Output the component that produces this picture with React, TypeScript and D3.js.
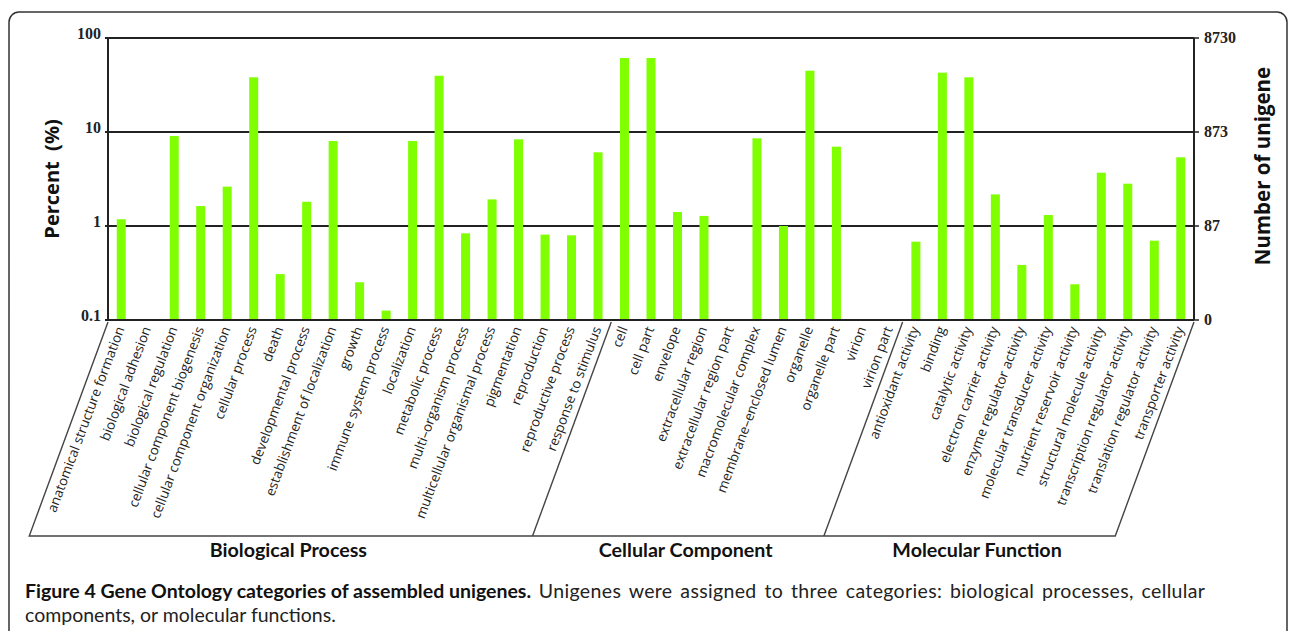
import React from "react";
import * as d3 from "d3";

// GO term categories, in plotting order
const categories: string[] = [
  "anatomical structure formation",
  "biological adhesion",
  "biological regulation",
  "cellular component biogenesis",
  "cellular component organization",
  "cellular process",
  "death",
  "developmental process",
  "establishment of localization",
  "growth",
  "immune system process",
  "localization",
  "metabolic process",
  "multi\u2013organism process",
  "multicellular organismal process",
  "pigmentation",
  "reproduction",
  "reproductive process",
  "response to stimulus",
  "cell",
  "cell part",
  "envelope",
  "extracellular region",
  "extracellular region part",
  "macromolecular complex",
  "membrane\u2013enclosed lumen",
  "organelle",
  "organelle part",
  "virion",
  "virion part",
  "antioxidant activity",
  "binding",
  "catalytic activity",
  "electron carrier activity",
  "enzyme regulator activity",
  "molecular transducer activity",
  "nutrient reservoir activity",
  "structural molecule activity",
  "transcription regulator activity",
  "translation regulator activity",
  "transporter activity",
];

// Percent of unigenes per category (0 = no bar above the 0.1% floor)
const percents: number[] = [
  1.18, 0, 9.06, 1.63, 2.62, 38.2, 0.308, 1.81, 8.02, 0.252, 0.126, 8.02,
  39.7, 0.836, 1.92, 8.36, 0.81, 0.796, 6.08,
  61.3, 61.3, 1.41, 1.28, 0, 8.57, 1.0, 44.9, 6.98, 0, 0,
  0.681, 42.8, 38.2, 2.17, 0.385, 1.31, 0.24, 3.69, 2.82, 0.698, 5.38,
];

// Ontology groups and how many categories each one holds
const groupNames: string[] = ["Biological Process", "Cellular Component", "Molecular Function"];
const groupSizes: number[] = [19, 11, 11];

// Axis ticks: percent on the left, unigene counts on the right
const percentTicks: number[] = [0.1, 1, 10, 100];
const percentTickLabels: string[] = ["0.1", "1", "10", "100"];
const countTickLabels: string[] = ["0", "87", "873", "8730"];

const W = 1290;
const H = 631;
const plotLeft = 108;
const plotRight = 1194;
const plotTop = 38;
const plotBottom = 320;
const bracketBottom = 536;
const slant = 0.368; // horizontal shift per vertical px for the slanted bracket edges
const labelAngle = -69.5;

const GREEN = "#7FFF00";
const INK = "#222";

export default function App() {
  const x = d3.scaleBand<string>().domain(categories).range([plotLeft, plotRight]).paddingInner(0).paddingOuter(0);
  const y = d3.scaleLog().domain([0.1, 100]).range([plotBottom, plotTop]);
  const step = x.step();
  const barW = 9;
  const center = (c: string) => (x(c) as number) + step / 2;

  // boundaries between groups (top edge of the bracket)
  const bounds: number[] = [];
  let acc = 0;
  bounds.push(x(categories[0]) as number);
  groupSizes.forEach((n) => {
    acc += n;
    const c = categories[acc - 1];
    bounds.push((x(c) as number) + step);
  });
  const bracketTopY = plotBottom + 2;
  const dx = (bracketBottom - bracketTopY) * slant;
  const bottomOf = (bx: number) => bx - dx;

  const serif = "'Liberation Serif', 'Times New Roman', serif";
  const sans = "'Open Sans', 'Noto Sans', sans-serif";
  const capFont = "Lato, 'Open Sans', sans-serif";

  return (
    <svg width={W} height={H} style={{ position: "absolute", left: 0, top: 0, background: "#fff" }}>
      {/* figure frame */}
      <rect x={9} y={12} width={1278} height={700} rx={10} ry={10} fill="none" stroke="#333" strokeWidth={1.5} />

      {/* horizontal grid lines at each decade */}
      {percentTicks.map((t) => (
        <line key={"g" + t} x1={plotLeft - 3} x2={plotRight} y1={y(t)} y2={y(t)} stroke={INK} strokeWidth={2.2} />
      ))}

      {/* bars */}
      {categories.map((c, i) =>
        percents[i] > 0.1 ? (
          <rect
            key={c}
            x={center(c) - barW / 2}
            y={y(percents[i])}
            width={barW}
            height={plotBottom - y(percents[i]) - 1}
            fill={GREEN}
          />
        ) : null
      )}

      {/* left and right axes */}
      <line x1={plotLeft} x2={plotLeft} y1={plotTop} y2={plotBottom} stroke={INK} strokeWidth={2} />
      <line x1={plotRight} x2={plotRight} y1={plotTop} y2={plotBottom} stroke={INK} strokeWidth={2} />
      {percentTicks.map((t, i) => (
        <g key={"lt" + t}>
          <text
            x={plotLeft - 7}
            y={y(t) + 1}
            textAnchor="end"
            fontFamily={serif}
            fontWeight="bold"
            fontSize={16}
            fill="#222"
          >
            {percentTickLabels[i]}
          </text>
          <line x1={plotRight} x2={plotRight + 5} y1={y(t)} y2={y(t)} stroke={INK} strokeWidth={1.5} />
          <text
            x={plotRight + 10}
            y={y(t) + 5}
            textAnchor="start"
            fontFamily={serif}
            fontWeight="bold"
            fontSize={16}
            fill="#222"
          >
            {countTickLabels[i]}
          </text>
        </g>
      ))}

      {/* axis titles */}
      <text
        transform={`translate(59,${(plotTop + plotBottom) / 2}) rotate(-90)`}
        textAnchor="middle"
        fontFamily={sans}
        fontWeight="bold"
        fontSize={20}
        fill="#111"
      >
        {"Percent\u00a0\u00a0(%)"}
      </text>
      <text
        transform={`translate(1270,${(plotTop + plotBottom) / 2 - 13}) rotate(-90)`}
        textAnchor="middle"
        fontFamily={sans}
        fontWeight="bold"
        fontSize={20.5}
        fill="#111"
      >
        Number of unigene
      </text>

      {/* category labels */}
      {categories.map((c) => (
        <text
          key={"l" + c}
          transform={`translate(${center(c) - 1},${plotBottom + 7}) rotate(${labelAngle})`}
          textAnchor="end"
          dy="0.35em"
          fontFamily={sans}
          fontSize={13.5}
          fill="#222"
        >
          {c}
        </text>
      ))}

      {/* group bracket */}
      <path
        d={`M${bounds[0]},${bracketTopY} L${bottomOf(bounds[0])},${bracketBottom} L${bottomOf(bounds[bounds.length - 1])},${bracketBottom} L${bounds[bounds.length - 1]},${bracketTopY}`}
        fill="none"
        stroke="#444"
        strokeWidth={1.4}
      />
      {bounds.slice(1, -1).map((b, i) => (
        <line key={"d" + i} x1={b} y1={bracketTopY} x2={bottomOf(b)} y2={bracketBottom} stroke="#444" strokeWidth={1.4} />
      ))}
      {groupNames.map((g, i) => (
        <text
          key={g}
          x={(bottomOf(bounds[i]) + bottomOf(bounds[i + 1])) / 2 + 7.5}
          y={557}
          textAnchor="middle"
          fontFamily={capFont}
          fontWeight="bold"
          fontSize={19.7}
          fill="#111"
        >
          {g}
        </text>
      ))}

      {/* caption */}
      <text x={25} y={598} fontFamily={capFont} fontSize={19.5} fill="#222">
        <tspan fontWeight="bold" fill="#111">Figure 4 Gene Ontology categories of assembled unigenes.</tspan>
        <tspan wordSpacing={2.5} letterSpacing={0.35}> Unigenes were assigned to three categories: biological processes, cellular</tspan>
      </text>
      <text x={25} y={622} fontFamily={capFont} fontSize={19.5} fill="#222">
        components, or molecular functions.
      </text>
    </svg>
  );
}
